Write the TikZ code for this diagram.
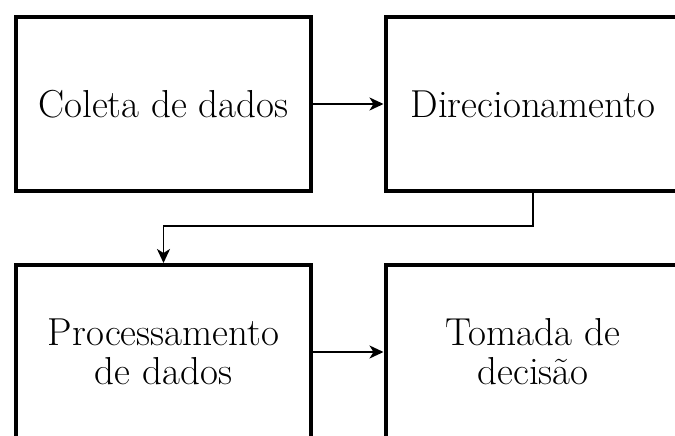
\documentclass[tikz,border=0pt]{standalone}
\usepackage{tikz}
\usetikzlibrary{arrows.meta}

\tikzset{
	stage/.style={draw, line width=4pt, minimum width=295pt, minimum height=174pt,
		align=center, font=\fontsize{39}{39}\selectfont},
	flow/.style={-{Stealth[length=14pt,width=13pt,inset=4pt]}, line width=1.8pt}
}

\begin{document}
\begin{tikzpicture}[x=1pt,y=1pt]
	% Frame of the picture
	\useasboundingbox (0,0) rectangle (675,-436);
	\clip (0,0) rectangle (675,-436);

	% Draw boxes
	%Top row
	\node[stage] (coleta) at (163.5,-104) {Coleta de dados};
	\node[stage] (direc) at (533,-104) {Direcionamento};
	%Bottom row
	\node[stage] (proc) at (163.5,-352) {Processamento\\de dados};
	\node[stage] (decisao) at (533,-352) {Tomada de\\decis\~ao};

	% Draw connectors
	\draw[flow] (coleta) -- (direc);
	\draw[flow] (direc.south) -- ++(0,-33) -| (proc.north);
	\draw[flow] (proc) -- (decisao);

\end{tikzpicture}
\end{document}
